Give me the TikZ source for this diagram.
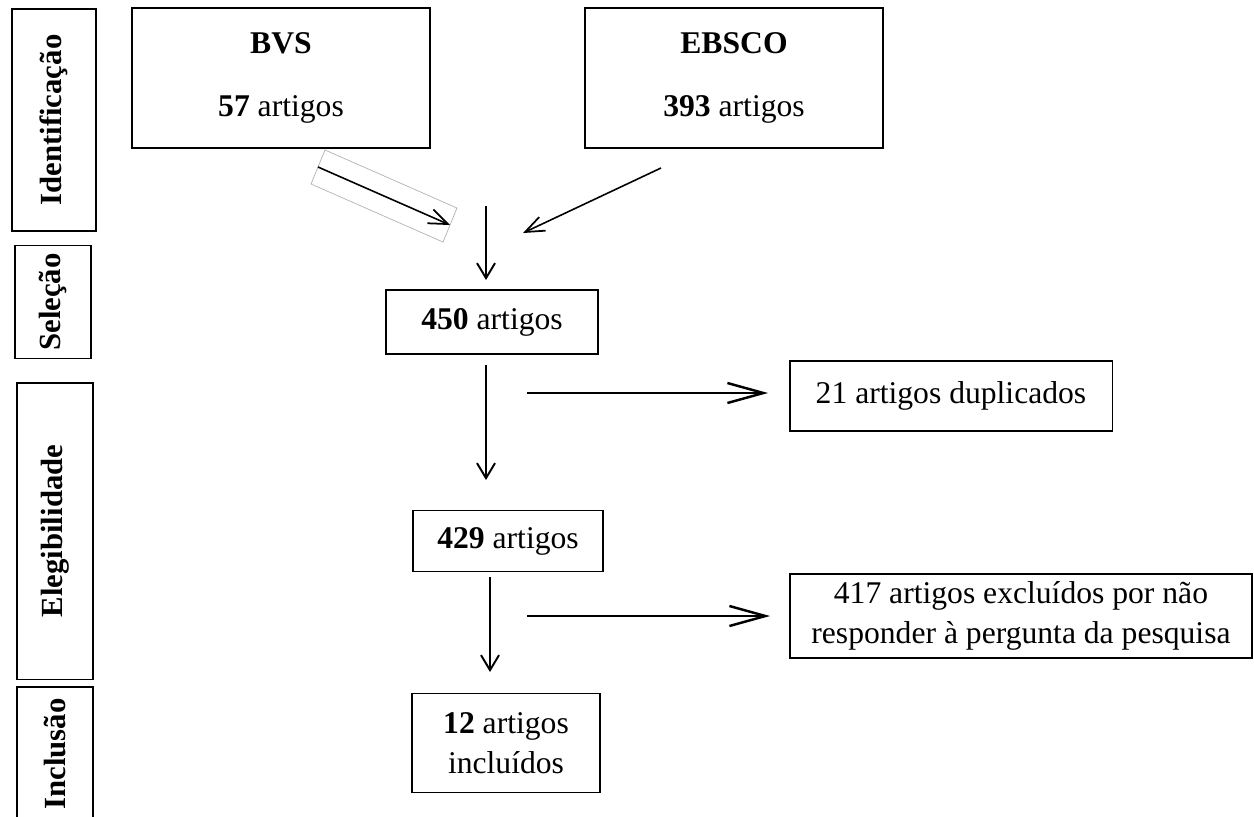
\documentclass[tikz,border=0pt]{standalone}
\usepackage{fontspec}
\setmainfont{Liberation Serif}
\usetikzlibrary{arrows.meta}
\begin{document}
\begin{tikzpicture}[x=0.02cm,y=-0.02cm,
	every node/.style={font=\fontsize{18}{22.5}\selectfont,align=center,inner sep=0pt},
	box/.style={draw,line width=1.1pt},
	phase/.style={draw,line width=1.1pt,rotate=90,font=\fontsize{17.5}{22.5}\selectfont\bfseries},
	down/.style={line width=1.1pt,-{Straight Barb[length=0.3cm,width=0.36cm,line width=1.1pt]}},
	side/.style={line width=1.1pt,-{Straight Barb[length=0.72cm,width=0.4cm,line width=1.4pt]}},
	slant/.style={line width=0.9pt,-{Straight Barb[length=0.38cm,width=0.3cm,line width=1pt]}}]
	\useasboundingbox (0,0) rectangle (1254,816);
	% fases
	\node[phase,minimum width=4.44cm,minimum height=1.68cm] (ident) at (54,120) {Identificação};
	\node[phase,minimum width=2.26cm,minimum height=1.52cm] (sel) at (53,302) {Seleção};
	\node[phase,minimum width=5.94cm,minimum height=1.52cm] (eleg) at (55,531) {Elegibilidade};
	\draw[line width=1.1pt] (17,830) -- (17,687) -- (93,687) -- (93,830);
	\node[rotate=90,font=\fontsize{17.5}{22.5}\selectfont\bfseries] (incl) at (55,754) {Inclusão};
	% bases
	\node[box,minimum width=5.96cm,minimum height=2.8cm] (bvs) at (281,78) {\textbf{BVS}\\[13pt]\textbf{57} artigos};
	\node[box,minimum width=5.96cm,minimum height=2.8cm] (ebsco) at (734,78) {\textbf{EBSCO}\\[13pt]\textbf{393} artigos};
	\node[box,minimum width=4.24cm,minimum height=1.28cm] (n450) at (492,322) {\textbf{450} artigos};
	\node[box,minimum width=6.46cm,minimum height=1.4cm] (dup) at (951,396) {21 artigos duplicados};
	\node[box,minimum width=3.8cm,minimum height=1.22cm] (n429) at (508,541) {\textbf{429} artigos};
	\node[box,minimum width=9.24cm,minimum height=1.68cm] (excl) at (1021,616) {417 artigos excluídos por não\\responder à pergunta da pesquisa};
	\node[box,minimum width=3.76cm,minimum height=1.98cm] (n12) at (506,743) {\textbf{12} artigos\\incluídos};
	% pontas das setas
	\coordinate (bvsA) at (318,167);
	\coordinate (bvsB) at (450,225);
	\coordinate (ebscoA) at (661,168);
	\coordinate (ebscoB) at (523,233);
	\coordinate (topA) at (486,206);
	\coordinate (topB) at (486,280);
	\coordinate (midA) at (486,365);
	\coordinate (midB) at (486,480);
	\coordinate (lowA) at (490,577);
	\coordinate (lowB) at (490,672);
	\coordinate (dupA) at (527,393);
	\coordinate (dupB) at (768,393);
	\coordinate (exclA) at (527,616);
	\coordinate (exclB) at (770,616);
	\draw[gray!60,line width=0.4pt] (325,150) -- (457,208) -- (443,242) -- (311,184) -- cycle;
	\draw[slant] (bvsA) -- (bvsB);
	\draw[slant] (ebscoA) -- (ebscoB);
	\draw[down] (topA) -- (topB);
	\draw[down] (midA) -- (midB);
	\draw[down] (lowA) -- (lowB);
	\draw[side] (dupA) -- (dupB);
	\draw[side] (exclA) -- (exclB);
\end{tikzpicture}
\end{document}
